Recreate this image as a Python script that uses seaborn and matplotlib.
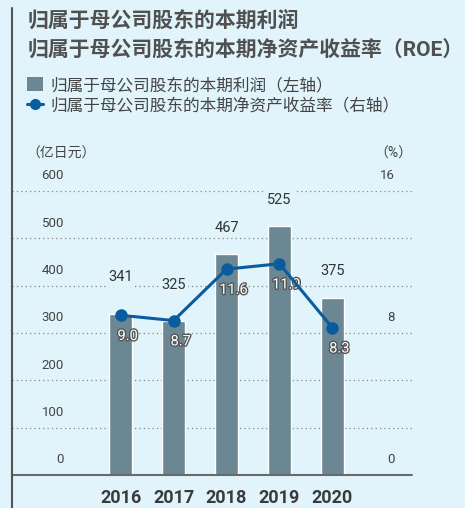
import numpy as np
import pandas as pd
import seaborn as sns
import matplotlib.pyplot as plt
import matplotlib.patheffects as pe
from matplotlib.lines import Line2D
from matplotlib.patches import Patch

years = ["2016", "2017", "2018", "2019", "2020"]
profit = [341, 325, 467, 525, 375]
roe = [9.0, 8.7, 11.6, 11.9, 8.3]
left_ticks = [0, 100, 200, 300, 400, 500, 600]
right_ticks = [0, 8, 16]

bg = "#e1f3fb"
bar_col = "#6b8793"
line_col = "#0a5c9e"

sns.set_style("white")
plt.rcParams["font.family"] = ["Roboto", "Noto Sans CJK SC", "DejaVu Sans"]

df = pd.DataFrame({"year": years, "profit": profit})

fig = plt.figure(figsize=(4.65, 5.08), dpi=100, facecolor=bg)
ax = fig.add_axes([12 / 465, 33 / 508, 400 / 465, 284 / 508])
ax.set_facecolor(bg)

sns.barplot(data=df, x="year", y="profit", color=bar_col, saturation=1,
            width=0.435, ax=ax, zorder=3)
ax.set_xlim(-2.055, 5.506)
ax.set_ylim(0, 600)
for s in ax.spines.values():
    s.set_visible(False)
ax.axhline(0, color="#6a6a6a", lw=1.5, zorder=4, clip_on=False)
for t in left_ticks[1:]:
    ax.axhline(t, color="#858585", lw=0.9, ls=(0, (1, 2.5)), zorder=1)
ax.set_yticks([])
ax.set_xlabel("")
ax.set_ylabel("")
ax.tick_params(axis="x", length=0, pad=10)
ax.set_xticks(range(len(years)))
ax.set_xticklabels(years, fontsize=13, fontweight="bold", color="#3a3a3a")

for t in left_ticks:
    ax.text(0.13, t + 32, str(t), transform=ax.get_yaxis_transform(),
            ha="right", va="center", fontsize=9.5, color="#444444")

# value labels above bars
lift = [26, 26, 19, 19, 19]
for i, v in enumerate(profit):
    ax.annotate(str(v), (i, v), xytext=(0, lift[i]), textcoords="offset points",
                ha="center", va="center", fontsize=10.5, color="#333333",
                zorder=6,
                bbox=dict(boxstyle="square,pad=0.15", fc=bg, ec="none"))

ax2 = ax.twinx()
ax2.set_ylim(0, 16)
for s in ax2.spines.values():
    s.set_visible(False)
ax2.set_yticks([])
sns.lineplot(x=np.arange(len(years)), y=roe, color=line_col, lw=2.2,
             marker="o", markersize=9, markeredgewidth=0, ax=ax2, zorder=5)
for i, v in enumerate(roe):
    ax2.annotate(f"{v:.1f}", (i, v), xytext=(5, -15), textcoords="offset points",
                 ha="center", va="center", fontsize=10.5, color="white",
                 path_effects=[pe.withStroke(linewidth=2, foreground="#555555")])

for t in right_ticks:
    ax2.text(0.957, t + 0.85, str(t), transform=ax2.get_yaxis_transform(),
             ha="right", va="center", fontsize=9.5, color="#444444")

# titles
fig.text(28 / 465, 1 - 20 / 508, "归属于母公司股东的本期利润", fontsize=15,
         fontweight="bold", color="#505050", va="center", ha="left")
fig.text(28 / 465, 1 - 51 / 508, "归属于母公司股东的本期净资产收益率（ROE）",
         fontsize=15, fontweight="bold", color="#505050", va="center", ha="left")

handles = [Patch(facecolor=bar_col, edgecolor="none"),
           Line2D([0], [0], color=line_col, lw=2.2, marker="o", markersize=7)]
fig.legend(handles, ["归属于母公司股东的本期利润（左轴）", "归属于母公司股东的本期净资产收益率（右轴）"],
           loc="upper left", bbox_to_anchor=(27 / 465, 1 - 77 / 508), frameon=False,
           fontsize=12, labelcolor="#444444", handlelength=0.95, handleheight=0.95,
           handletextpad=0.45, labelspacing=0.3, borderpad=0, borderaxespad=0)

fig.text(26 / 465, 1 - 154 / 508, "（亿日元）", fontsize=10, color="#444444",
         va="center", ha="left")
fig.text(412 / 465, 1 - 154 / 508, "（%）", fontsize=10, color="#444444",
         va="center", ha="right")

fig.add_artist(Line2D([12 / 465, 12 / 465], [0, 1 - 8 / 508],
                      transform=fig.transFigure, color="#555555", lw=1.5))

fig.savefig("out.png", dpi=100, facecolor=bg)
